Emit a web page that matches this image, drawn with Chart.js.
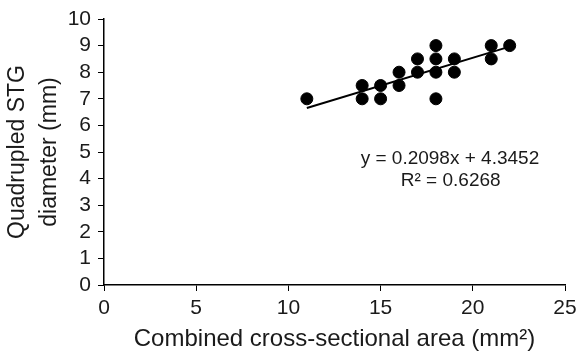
<!DOCTYPE html>
<html>
<head>
<meta charset="utf-8">
<script src="https://cdn.jsdelivr.net/npm/chart.js@4"></script>
<style>
html,body{margin:0;padding:0;background:#fff;}
#wrap{width:577px;height:351px;position:relative;}
</style>
</head>
<body>
<div id="wrap"><canvas id="c" width="577" height="351"></canvas></div>
<script>
const areaX = [11, 14, 14, 15, 15, 16, 16, 17, 17, 18, 18, 18, 18, 19, 19, 21, 21, 22];
const diameterY = [7, 7.5, 7, 7.5, 7, 8, 7.5, 8.5, 8, 9, 8.5, 8, 7, 8.5, 8, 9, 8.5, 9];
const slope = 0.2098;
const intercept = 4.3452;
const rSquared = 0.6268;
const trendX = [11, 22];
const xTicks = [0, 5, 10, 15, 20, 25];
const yTicks = [0,1,2,3,4,5,6,7,8,9,10];

const font = "'Liberation Sans', Arial, sans-serif";
const points = areaX.map((x, i) => ({x: x, y: diameterY[i]}));
const trend = trendX.map(x => ({x: x, y: slope * x + intercept}));

const eqPlugin = {
  id: 'eq',
  afterDatasetsDraw(chart) {
    const ctx = chart.ctx;
    const xs = chart.scales.x, ys = chart.scales.y;
    ctx.save();
    ctx.fillStyle = '#1a1a1a';
    ctx.font = '19px ' + font;
    ctx.textAlign = 'center';
    ctx.textBaseline = 'middle';
    ctx.fillText('y = ' + slope.toFixed(4) + 'x + ' + intercept.toFixed(4), xs.getPixelForValue(18.76), ys.getPixelForValue(4.74));
    ctx.fillText('R\u00B2 = ' + rSquared.toFixed(4), xs.getPixelForValue(18.8), ys.getPixelForValue(3.9));
    ctx.restore();
  }
};

new Chart(document.getElementById('c'), {
  type: 'scatter',
  data: {
    datasets: [
      {
        data: points,
        backgroundColor: '#000',
        borderColor: '#000',
        pointRadius: 6,
        pointHoverRadius: 6
      },
      {
        type: 'line',
        data: trend,
        borderColor: '#000',
        borderWidth: 2,
        pointRadius: 0,
        fill: false,
        tension: 0
      }
    ]
  },
  options: {
    responsive: false,
    animation: false,
    events: [],
    layout: {padding: {top: 19, right: 12, left: 0, bottom: 0}},
    plugins: {legend: {display: false}, tooltip: {enabled: false}},
    scales: {
      x: {
        type: 'linear',
        min: 0, max: 25,
        afterBuildTicks: s => { s.ticks = xTicks.map(v => ({value: v})); },
        afterFit: s => { s.height = 66; s.paddingRight = 0; s.paddingLeft = 0; },
        grid: {drawOnChartArea: false, color: '#000', tickLength: 6, tickColor: '#000'},
        border: {color: '#000', width: 1.5},
        ticks: {color: '#1a1a1a', font: {family: font, size: 21}, padding: 5, maxRotation: 0, autoSkip: false},
        title: {display: true, text: 'Combined cross-sectional area (mm\u00B2)', color: '#1a1a1a', font: {family: font, size: 24, lineHeight: 1.0}, padding: {top: 0, bottom: 0}}
      },
      y: {
        type: 'linear',
        min: 0, max: 10,
        afterBuildTicks: s => { s.ticks = yTicks.map(v => ({value: v})); },
        afterFit: s => { s.width = 104; s.paddingTop = 0; s.paddingBottom = 0; },
        grid: {drawOnChartArea: false, color: '#000', tickLength: 6, tickColor: '#000'},
        border: {color: '#000', width: 1.5},
        ticks: {color: '#1a1a1a', font: {family: font, size: 21}, padding: 7, autoSkip: false},
        title: {display: true, text: ['Quadrupled STG', 'diameter (mm)'], color: '#1a1a1a', font: {family: font, size: 23, lineHeight: 1.39}, padding: {top: 2, bottom: 0}}
      }
    }
  },
  plugins: [eqPlugin]
});
</script>
</body>
</html>
